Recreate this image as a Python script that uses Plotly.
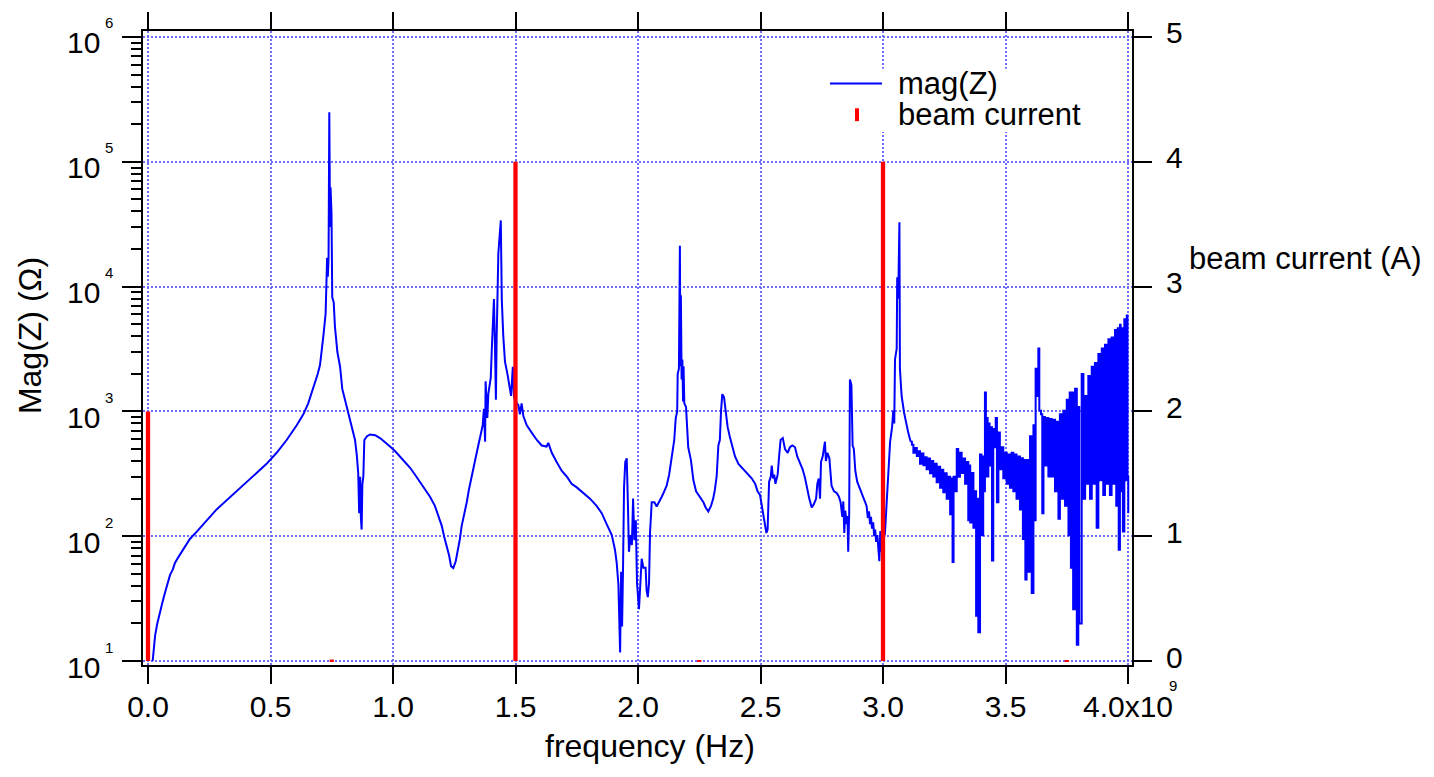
import plotly.graph_objects as go

# ---------------- data ----------------
# mag(Z) in Ohm vs frequency in GHz
f1 = [0.019, 0.029, 0.038, 0.049, 0.058, 0.069, 0.080, 0.090, 0.101, 0.110,
      0.124, 0.137, 0.151, 0.171, 0.192, 0.212, 0.240, 0.280, 0.321, 0.362,
      0.403, 0.444, 0.484, 0.525, 0.566, 0.607, 0.634, 0.654, 0.668, 0.682,
      0.693, 0.702, 0.709, 0.716, 0.725, 0.729, 0.731, 0.734, 0.737, 0.740,
      0.743, 0.745, 0.749, 0.752, 0.758, 0.763, 0.773, 0.784, 0.793, 0.804,
      0.815, 0.824, 0.831, 0.845, 0.852, 0.858, 0.862, 0.866, 0.869, 0.872,
      0.875, 0.879, 0.883, 0.893, 0.906, 0.927, 0.947, 0.967, 0.988]
z1 = [10, 16, 20, 25, 29, 35, 42, 49, 54, 61,
      68, 75, 83, 95, 105, 117, 134, 164, 194, 229,
      272, 321, 380, 466, 590, 774, 948, 1160, 1420, 1680,
      2000, 2350, 2990, 4050, 6070, 10000, 17000, 12000, 17000, 249000,
      30000, 62400, 39000, 8200, 7500, 4790, 2990, 2280, 1515, 1240,
      1015, 857, 724, 590, 451, 321, 153, 300, 140, 113,
      260, 302, 590, 630, 653, 645, 611, 571, 523]

f2 = [1.008, 1.029, 1.049, 1.069, 1.090, 1.110, 1.131, 1.151, 1.171, 1.185,
      1.199, 1.209, 1.219, 1.229, 1.237, 1.246, 1.256, 1.264, 1.273, 1.280,
      1.291, 1.301, 1.310, 1.321, 1.332, 1.337, 1.348, 1.358, 1.366, 1.371,
      1.376, 1.378, 1.385, 1.389, 1.399, 1.404, 1.412, 1.416, 1.420, 1.423,
      1.430, 1.440, 1.444, 1.450, 1.457, 1.467, 1.475, 1.482, 1.489, 1.494,
      1.500, 1.512, 1.518, 1.525, 1.532, 1.546, 1.566, 1.587, 1.607, 1.627,
      1.634, 1.648, 1.668, 1.689, 1.709, 1.729, 1.750, 1.777, 1.804, 1.831,
      1.852, 1.872, 1.893, 1.906, 1.913, 1.920, 1.927, 1.931, 1.935, 1.939,
      1.943, 1.948, 1.954, 1.959, 1.963, 1.969, 1.975, 1.980, 1.985, 1.991,
      1.996]
z2 = [482, 435, 393, 355, 311, 272, 237, 207, 175, 148,
      121, 99, 83, 70, 57.5, 55.6, 63, 75, 95, 120,
      148, 187, 237, 302, 400, 436, 533, 653, 774, 1047,
      571, 1740, 885, 1374, 1860, 3420, 7940, 3500, 1240, 3790,
      18500, 33900, 7940, 4050, 2500, 2000, 1570, 1330, 2280, 1300,
      1200, 1120, 948, 1160, 917, 774, 676, 590, 533, 523,
      560, 466, 393, 333, 301, 263, 246, 222, 200, 175,
      153, 125, 102, 78, 61.5, 41, 11.7, 52, 18.9, 57.5,
      246, 393, 421, 175, 75, 102, 85, 200, 93, 134,
      42]

f3 = [2.004, 2.009, 2.015, 2.022, 2.031, 2.035, 2.040, 2.045, 2.049, 2.056,
      2.067, 2.076, 2.086, 2.097, 2.107, 2.117, 2.127, 2.135, 2.148, 2.154,
      2.160, 2.162, 2.167, 2.171, 2.173, 2.175, 2.178, 2.181, 2.184, 2.186,
      2.189, 2.196, 2.200, 2.205, 2.216, 2.226, 2.237, 2.246, 2.256, 2.267,
      2.276, 2.287, 2.298, 2.307, 2.314, 2.321, 2.328, 2.334, 2.339, 2.344,
      2.351, 2.358, 2.366, 2.376, 2.385, 2.396, 2.410, 2.423, 2.437, 2.450,
      2.464, 2.478, 2.488, 2.498, 2.507, 2.516, 2.524, 2.529, 2.535, 2.542,
      2.546, 2.551, 2.556, 2.561, 2.570, 2.576, 2.582, 2.591, 2.600, 2.611,
      2.620, 2.630, 2.641, 2.650, 2.661, 2.672, 2.682, 2.691, 2.699, 2.709,
      2.718, 2.727, 2.732, 2.738, 2.743, 2.747, 2.754, 2.763, 2.767, 2.773,
      2.781, 2.790, 2.800, 2.811, 2.820, 2.827, 2.834, 2.838, 2.842, 2.846,
      2.852, 2.855, 2.858, 2.862, 2.865, 2.871, 2.876, 2.881, 2.887, 2.895,
      2.903, 2.913, 2.922, 2.933, 2.938, 2.943, 2.947, 2.951, 2.955, 2.960,
      2.964, 2.968, 2.972, 2.977, 2.981, 2.985, 2.989, 2.993, 2.997, 3.003,
      3.008, 3.012, 3.018, 3.023, 3.029, 3.037, 3.042, 3.046, 3.049, 3.056,
      3.058, 3.062, 3.067, 3.069, 3.076, 3.086, 3.094, 3.103, 3.113]
z3 = [26, 40, 66, 56, 56, 37, 32.5, 42, 106, 187,
      187, 173, 187, 207, 229, 254, 311, 393, 590, 885,
      1000, 2000, 2200, 21200, 2300, 8510, 1800, 2600, 1200, 2300,
      1160, 1084, 724, 516, 407, 282, 229, 214, 200, 187,
      170, 158, 175, 200, 237, 301, 533, 590, 1014, 1374,
      1300, 1014, 748, 611, 516, 436, 380, 355, 333, 311,
      291, 263, 229, 214, 170, 138, 106, 113, 272, 301,
      368, 290, 311, 263, 311, 436, 590, 611, 499, 466,
      516, 533, 516, 436, 393, 344, 291, 237, 200, 170,
      181, 200, 263, 290, 200, 393, 436, 571, 400, 466,
      421, 254, 229, 222, 207, 187, 143, 190, 106, 160,
      125, 145, 75, 153, 1800, 1620, 533, 500, 333, 272,
      246, 222, 200, 175, 140, 158, 125, 143, 115, 129,
      100, 113, 90, 102, 80, 63, 110, 75, 100, 95,
      106, 153, 229, 333, 571, 748, 1014, 800, 2600, 3190,
      11900, 8000, 32800, 2200, 1330, 980, 800, 676, 571]

# dense, rapidly oscillating part above 3.1 GHz
f4 = [3.118, 3.124, 3.131, 3.138, 3.145, 3.151, 3.158, 3.165, 3.172, 3.178,
      3.185, 3.192, 3.199, 3.205, 3.212, 3.219, 3.226, 3.233, 3.240, 3.246,
      3.253, 3.260, 3.267, 3.274, 3.280, 3.284, 3.288, 3.294, 3.301, 3.307,
      3.314, 3.321, 3.328, 3.335, 3.342, 3.348, 3.352, 3.356, 3.362, 3.369,
      3.376, 3.380, 3.385, 3.389, 3.396, 3.402, 3.409, 3.413, 3.416, 3.420,
      3.423, 3.427, 3.430, 3.435, 3.441, 3.445, 3.450, 3.455, 3.460, 3.465,
      3.471, 3.477, 3.484, 3.491, 3.498, 3.505, 3.512, 3.518, 3.525, 3.532,
      3.539, 3.545, 3.552, 3.559, 3.566, 3.571, 3.577, 3.581, 3.586, 3.593,
      3.600, 3.607, 3.614, 3.618, 3.623, 3.627, 3.634, 3.638, 3.645, 3.650,
      3.655, 3.661, 3.668, 3.675, 3.681, 3.688, 3.695, 3.702, 3.709, 3.716,
      3.722, 3.729, 3.736, 3.743, 3.750, 3.757, 3.762, 3.767, 3.773, 3.776,
      3.784, 3.791, 3.797, 3.801, 3.811, 3.818, 3.825, 3.831, 3.838, 3.845,
      3.852, 3.858, 3.865, 3.872, 3.879, 3.886, 3.893, 3.899, 3.906, 3.913,
      3.920, 3.926, 3.933, 3.940, 3.947, 3.952, 3.958, 3.962, 3.967, 3.970,
      3.974, 3.979, 3.985, 3.990, 3.995, 3.998, 4.001]
z4 = [540, 466, 510, 440, 480, 380, 460, 370, 430, 344,
      420, 320, 400, 301, 380, 270, 360, 245, 340, 225,
      320, 200, 300, 150, 290, 62, 300, 229, 499, 300,
      466, 321, 420, 263, 394, 134, 368, 129, 321, 117,
      229, 23, 200, 17, 451, 102, 436, 229, 1420, 301,
      885, 301, 800, 368, 748, 64, 723, 516, 885, 187,
      676, 344, 516, 291, 466, 263, 451, 245, 466, 229,
      451, 200, 436, 164, 421, 95, 407, 45, 407, 52,
      632, 35, 774, 134, 2200, 1327, 3190, 1014, 948, 153,
      900, 368, 885, 301, 870, 301, 857, 229, 828, 138,
      948, 200, 1014, 175, 1240, 102, 1420, 56, 1420, 26,
      1520, 13.5, 1084, 20, 1995, 200, 1327, 263, 1925, 200,
      2280, 263, 2440, 117, 2885, 281, 3190, 214, 3420, 263,
      3780, 214, 3910, 263, 4480, 175, 4630, 78, 4955, 229,
      4630, 109, 5480, 281, 5870, 301, 153]

# beam current spectrum (A) at harmonic frequencies (GHz)
beam_f_ghz = [0.0, 0.75, 1.5, 2.25, 3.0, 3.75]
beam_amp = [2.0, 0.012, 4.0, 0.004, 4.0, 0.004]

# axis ticks
x_tick_ghz = [0.0, 0.5, 1.0, 1.5, 2.0, 2.5, 3.0, 3.5, 4.0]
x_tick_text = ["0.0", "0.5", "1.0", "1.5", "2.0", "2.5", "3.0", "3.5", "4.0x10"]
y_decades = [1, 2, 3, 4, 5, 6]
y2_ticks = [0, 1, 2, 3, 4, 5]

# ---------------- styling ----------------
FONT = "Liberation Sans, Arial, Helvetica, sans-serif"
W, H = 1434, 777
L, R, T, B = 143, 1132, 25, 665


def pxx(x):
    return (x - L) / (R - L)


def pxy(y):
    return (B - y) / (B - T)


smooth_f = f1 + f2 + f3
smooth_z = z1 + z2 + z3
# the dense part continues from the last point of the smooth part
dense_f = f3[-1:] + f4
dense_z = z3[-1:] + z4

fig = go.Figure()
fig.add_trace(go.Scatter(
    x=[f * 1e9 for f in smooth_f], y=smooth_z, mode="lines", name="mag(Z)",
    line=dict(color="#0000ff", width=2), showlegend=False))
fig.add_trace(go.Scatter(
    x=[f * 1e9 for f in dense_f], y=dense_z, mode="lines", name="mag(Z)",
    line=dict(color="#0000ff", width=2, shape="hv"), showlegend=False))
fig.add_trace(go.Bar(
    x=[f * 1e9 for f in beam_f_ghz], y=beam_amp, width=1.75e7, yaxis="y2",
    name="beam current", marker=dict(color="#ff0000", line=dict(width=0)),
    showlegend=False))

grid = dict(showgrid=True, gridcolor="#6f6fff", gridwidth=1.5, griddash="2px,2px")
axline = dict(showline=True, linewidth=2, linecolor="black", ticks="outside",
              tickwidth=2, tickcolor="black", zeroline=False)
tickfont = dict(family=FONT, size=30, color="black")

minor_vals = [m * 10 ** k for k in range(1, 6) for m in range(2, 10)]

fig.update_layout(
    width=W, height=H,
    margin=dict(l=L, r=W - R, t=T, b=H - B, pad=0),
    paper_bgcolor="white", plot_bgcolor="white",
    showlegend=False,
    font=dict(family=FONT, color="black"),
    xaxis=dict(range=[-0.0204e9, 4.0163e9], tickmode="array",
               tickvals=[v * 1e9 for v in x_tick_ghz], ticktext=x_tick_text,
               ticklen=17, mirror="ticks", tickfont=tickfont,
               ticklabelstandoff=-3, **axline, **grid),
    yaxis=dict(type="log", range=[0.968, 6.048], tickmode="array",
               tickvals=[10 ** k for k in y_decades], showticklabels=False,
               ticklen=19,
               minor=dict(tickmode="array", tickvals=minor_vals, ticks="outside",
                          ticklen=10, tickwidth=2, tickcolor="black", showgrid=False),
               **axline, **grid),
    yaxis2=dict(overlaying="y", side="right", anchor="x", range=[-0.0317, 5.0476],
                tickmode="array", tickvals=y2_ticks, ticklen=18, showgrid=False,
                tickfont=tickfont, ticklabelstandoff=8, ticklabelshift=-4, **axline),
)

ann = []
# left log tick labels: "10" with raised exponent
for k in y_decades:
    ann.append(dict(x=pxx(101.5), xref="paper", y=k, yref="y", text="10",
                    xanchor="right", yanchor="middle", yshift=-6, showarrow=False,
                    font=dict(family=FONT, size=30, color="black")))
    ann.append(dict(x=pxx(102.5), xref="paper", y=k, yref="y", text=str(k),
                    xanchor="left", yanchor="middle", yshift=14, showarrow=False,
                    font=dict(family=FONT, size=15, color="black")))
# exponent of the last x tick label
ann.append(dict(x=4.0e9, xref="x", y=pxy(686), yref="paper", text="9",
                xanchor="center", yanchor="middle", xshift=45, showarrow=False,
                font=dict(family=FONT, size=15, color="black")))
# axis titles
ann.append(dict(x=pxx(650), xref="paper", y=pxy(747), yref="paper",
                text="frequency (Hz)", showarrow=False, xanchor="center",
                yanchor="middle", font=dict(family=FONT, size=32, color="black")))
ann.append(dict(x=pxx(30), xref="paper", y=pxy(333), yref="paper",
                text="Mag(Z) (Ω)", textangle=-90, showarrow=False,
                xanchor="center", yanchor="middle",
                font=dict(family=FONT, size=32, color="black")))
ann.append(dict(x=pxx(1187), xref="paper", y=pxy(255), yref="paper",
                text="beam current (A)", showarrow=False, xanchor="left",
                yanchor="middle", font=dict(family=FONT, size=31, color="black")))
# legend texts
ann.append(dict(x=pxx(896), xref="paper", y=pxy(78), yref="paper", text="mag(Z)",
                showarrow=False, xanchor="left", yanchor="middle",
                font=dict(family=FONT, size=31, color="black")))
ann.append(dict(x=pxx(896), xref="paper", y=pxy(109), yref="paper", text="beam current",
                showarrow=False, xanchor="left", yanchor="middle",
                font=dict(family=FONT, size=31, color="black")))

shapes = [
    dict(type="rect", xref="paper", yref="paper", x0=pxx(822), x1=pxx(1092),
         y0=pxy(127), y1=pxy(63), fillcolor="white", line=dict(width=0), layer="above"),
    dict(type="line", xref="paper", yref="paper", x0=pxx(830), x1=pxx(882),
         y0=pxy(78), y1=pxy(78), line=dict(color="#0000ff", width=2), layer="above"),
    dict(type="line", xref="paper", yref="paper", x0=pxx(857), x1=pxx(857),
         y0=pxy(116), y1=pxy(103), line=dict(color="#ff0000", width=4), layer="above"),
]

fig.update_layout(annotations=ann, shapes=shapes)
fig.write_html("out.html")
